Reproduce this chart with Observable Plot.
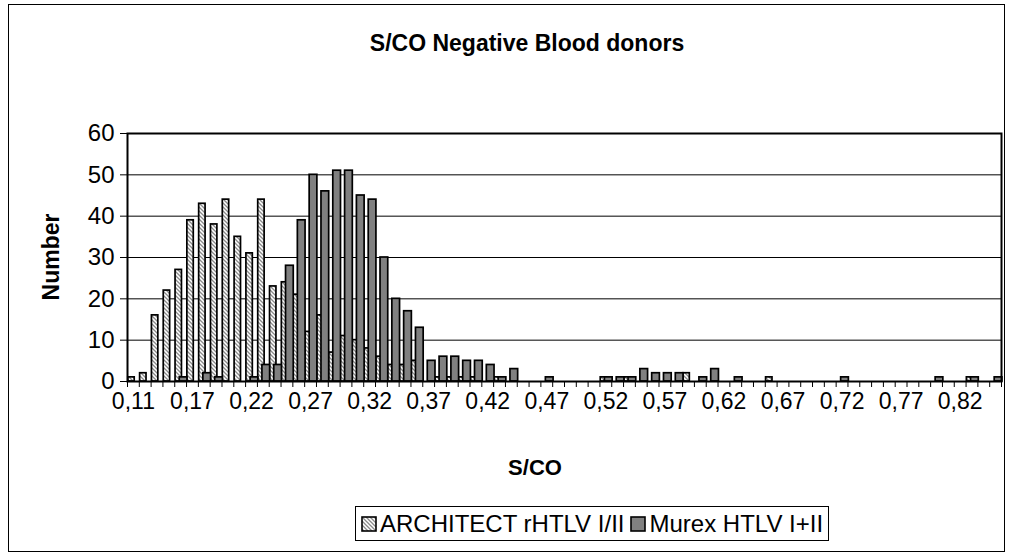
<!DOCTYPE html>
<html><head><meta charset="utf-8">
<script src="https://cdn.jsdelivr.net/npm/d3@7"></script>
<script src="https://cdn.jsdelivr.net/npm/@observablehq/plot@0.6"></script>
<style>
body{margin:0;background:#fff;font-family:"Liberation Sans",Arial,sans-serif;color:#000;}
#wrap{position:relative;width:1011px;height:554px;overflow:hidden;}
#frame{position:absolute;left:8px;top:4px;width:997px;height:548px;border:1px solid #000;box-sizing:border-box;}
#title{position:absolute;left:0;width:1054px;top:30px;text-align:center;font-weight:bold;font-size:23px;}
#xlabel{position:absolute;left:0;width:1070px;top:455px;text-align:center;font-weight:bold;font-size:22px;}
#ylabel{position:absolute;left:51px;top:257px;transform:translate(-50%,-50%) rotate(-90deg);font-weight:bold;font-size:23px;white-space:nowrap;}
#chart{position:absolute;left:0;top:0;}
#legend{position:absolute;left:355px;top:506px;height:35px;border:1px solid #000;box-sizing:border-box;display:flex;align-items:center;padding:0 5px 0 5px;font-size:24px;white-space:nowrap;background:#fff;}
.item{display:flex;align-items:center;margin-right:6px;}
.item:last-child{margin-right:0;}
</style></head>
<body>
<div id="wrap">
  <div id="frame"></div>
  <div id="chart"></div>
  <div id="title">S/CO Negative Blood donors</div>
  <div id="xlabel">S/CO</div>
  <div id="ylabel">Number</div>
  <div id="legend"></div>
</div>
<script>
const categories = ["0,11","0,13","0,14","0,15","0,16","0,17","0,18","0,19","0,20","0,21",
  "0,22","0,23","0,24","0,25","0,26","0,27","0,28","0,29","0,30","0,31",
  "0,32","0,33","0,34","0,35","0,36","0,37","0,38","0,39","0,40","0,41",
  "0,42","0,43","0,44","0,45","0,46","0,47","0,48","0,49","0,50","0,51",
  "0,52","0,53","0,54","0,55","0,56","0,57","0,58","0,59","0,60","0,61",
  "0,62","0,63","0,64","0,65","0,66","0,67","0,68","0,69","0,70","0,71",
  "0,72","0,73","0,74","0,75","0,76","0,77","0,78","0,79","0,80","0,81",
  "0,82","0,83","0,84","0,85"];
const architect = [1,2,16,22,27,39,43,38,44,35,
  31,44,23,24,21,12,16,7,11,10,
  8,6,4,4,5,0,1,1,1,1,
  0,1,0,0,0,0,0,0,0,0,
  1,0,1,0,0,0,0,2,0,0,
  0,0,0,0,1,0,0,0,0,0,
  0,0,0,0,0,0,0,0,0,0,
  0,1,0,0];
const murex = [0,0,0,0,1,0,2,1,0,0,
  1,4,4,28,39,50,46,51,51,45,
  44,30,20,17,13,5,6,6,5,5,
  4,1,3,0,0,1,0,0,0,0,
  1,1,1,3,2,2,2,0,1,3,
  0,1,0,0,0,0,0,0,0,0,
  1,0,0,0,0,0,0,0,1,0,
  0,1,0,1];
const yTicks = [0,10,20,30,40,50,60];
const gridValues = [10,20,30,40,50];
const seriesNames = ["ARCHITECT rHTLV I/II","Murex HTLV I+II"];
const seriesFills = ["url(#hatch)","#808080"];

const labelTicks = categories.filter((d,i)=>i%5===0);
const rowsA = categories.map((c,i)=>({cat:c, v:architect[i]})).filter(d=>d.v>0);
const rowsM = categories.map((c,i)=>({cat:c, v:murex[i]})).filter(d=>d.v>0);

const W = 1011, H = 554, ML = 127, MR = 10, MT = 133, MB = 173;
const bw = (W-ML-MR)/categories.length;
const hatchDef = '<pattern id="ID" patternUnits="userSpaceOnUse" width="4" height="4">' +
 '<rect width="4" height="4" fill="#fff"/>' +
 '<path d="M-1,-1 L5,5 M3,-1 L5,1 M-1,3 L1,5" stroke="#8a8a8a" stroke-width="1.3"/></pattern>';

const chart = Plot.plot({
  width: W, height: H,
  marginLeft: ML, marginRight: MR, marginTop: MT, marginBottom: MB,
  style:{fontFamily:"Liberation Sans, Arial, sans-serif", fontSize:"23px", color:"#000", background:"transparent", overflow:"visible"},
  x:{type:"band", domain:categories, padding:0, align:0, axis:null},
  y:{domain:[0,60], axis:null},
  marks:[
    Plot.ruleY(gridValues, {stroke:"#000", strokeWidth:1}),
    Plot.barY(rowsA, {x:"cat", y:"v", fill:seriesFills[0], stroke:"#000", strokeWidth:1.7, insetLeft:0.8, insetRight:4.6}),
    Plot.barY(rowsM, {x:"cat", y:"v", fill:seriesFills[1], stroke:"#000", strokeWidth:1.7, insetLeft:5, insetRight:-0.9}),
    Plot.frame({stroke:"#000", strokeWidth:2}),
    Plot.axisX({ticks:categories, tickFormat:()=>"", tickSize:6, dx:-bw/2, stroke:"#000", strokeWidth:1, label:null}),
    Plot.axisX({ticks:categories.slice(-1), tickFormat:()=>"", tickSize:6, dx:bw/2, stroke:"#000", strokeWidth:1, label:null}),
    Plot.axisX({ticks:labelTicks, tickSize:0, tickPadding:11, fontSize:23, label:null}),
    Plot.axisY({ticks:yTicks, tickSize:7, tickPadding:6, fontSize:24, label:null, stroke:"#000"})
  ]
});
chart.insertAdjacentHTML("afterbegin", "<defs>" + hatchDef.replace("ID","hatch") + "</defs>");
document.getElementById("chart").appendChild(chart);

const legend = document.getElementById("legend");
seriesNames.forEach((name,i)=>{
  const item = document.createElement("span");
  item.className = "item";
  const sw = document.createElementNS("http://www.w3.org/2000/svg","svg");
  sw.setAttribute("width","16"); sw.setAttribute("height","16");
  sw.style.marginRight = "3px";
  sw.innerHTML = "<defs>" + hatchDef.replace("ID","lh"+i) + "</defs>" +
    '<rect x="1" y="1" width="14" height="14" stroke="#000" stroke-width="1.6" fill="'+(i===0?"url(#lh0)":seriesFills[1])+'"/>';
  item.appendChild(sw);
  item.appendChild(document.createTextNode(name));
  legend.appendChild(item);
});
</script>
</body></html>
